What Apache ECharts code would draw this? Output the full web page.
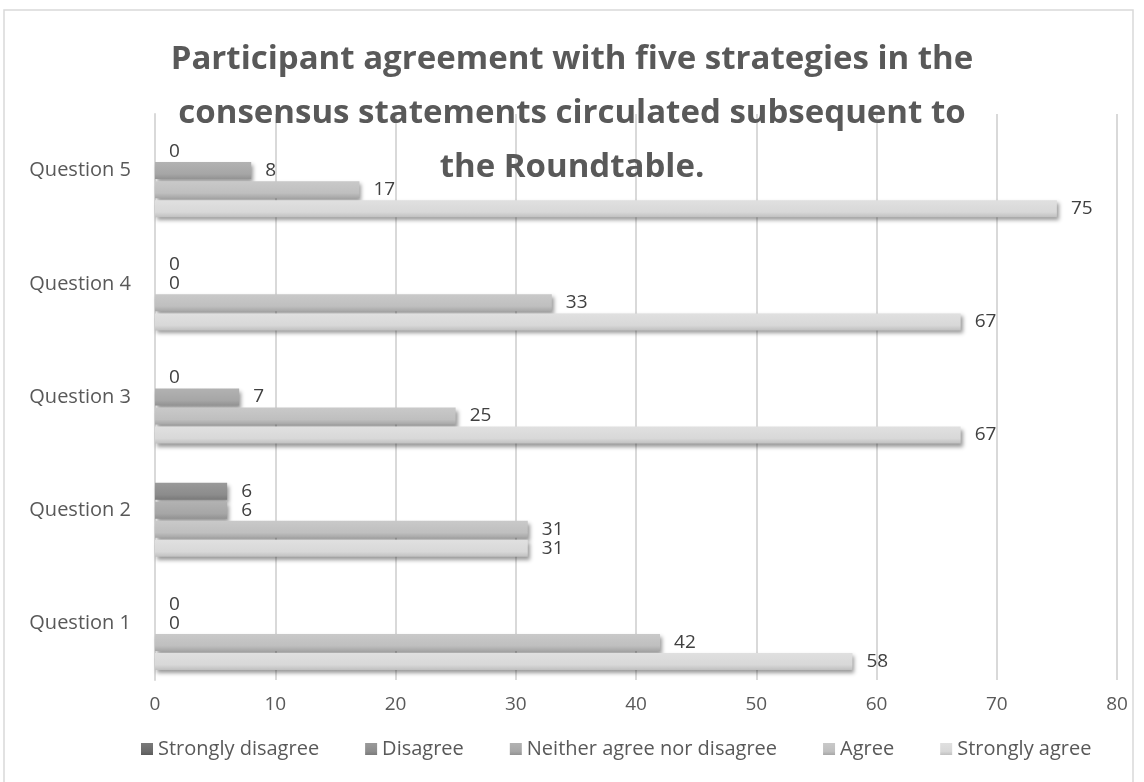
<!DOCTYPE html>
<html>
<head>
<meta charset="utf-8">
<script src="https://cdn.jsdelivr.net/npm/echarts@6/dist/echarts.min.js"></script>
<style>
html,body{margin:0;padding:0;background:#fff;}
#chart{width:1144px;height:782px;}
</style>
</head>
<body>
<div id="chart"></div>
<script>
var categories = ['Question 1', 'Question 2', 'Question 3', 'Question 4', 'Question 5'];
var seriesNames = ['Strongly disagree', 'Disagree', 'Neither agree nor disagree', 'Agree', 'Strongly agree'];
var stronglyDisagree = [null, null, null, null, null];
var disagree = [0, 6, 0, 0, 0];
var neither = [0, 6, 7, 0, 8];
var agree = [42, 31, 25, 33, 17];
var stronglyAgree = [58, 31, 67, 67, 75];
var xTicks = [0, 10, 20, 30, 40, 50, 60, 70, 80];

var values = [stronglyDisagree, disagree, neither, agree, stronglyAgree];
var baseColors = [['#7a7a7a', '#6a6a6a', '#5a5a5a'], ['#9a9a9a', '#8c8c8c', '#7a7a7a'], ['#b2b2b2', '#a6a6a6', '#929292'], ['#c9c9c9', '#bfbfbf', '#a6a6a6'], ['#e0e0e0', '#d8d8d8', '#c0c0c0']];
var FONT = 'Open Sans';

function grad(c) {
  return new echarts.graphic.LinearGradient(0, 0, 0, 1, [
    {offset: 0, color: c[0]}, {offset: 0.7, color: c[1]}, {offset: 1, color: c[2]}
  ]);
}

var series = seriesNames.map(function (name, i) {
  return {
    name: name,
    type: 'bar',
    data: values[i],
    barWidth: 17,
    barGap: '12%',
    itemStyle: {
      color: grad(baseColors[i]),
      shadowColor: 'rgba(0,0,0,0.4)',
      shadowBlur: 4,
      shadowOffsetX: 2,
      shadowOffsetY: 3
    },
    label: {
      show: true,
      position: 'right',
      distance: 14,
      fontFamily: FONT,
      fontSize: 19,
      color: '#404040'
    }
  };
});

var chart = echarts.init(document.getElementById('chart'));
chart.setOption({
  animation: false,
  backgroundColor: '#fff',
  title: {
    text: 'Participant agreement with five strategies in the\nconsensus statements circulated subsequent to\nthe Roundtable.',
    left: 'center',
    top: 28,
    z: 10,
    textStyle: {
      fontFamily: FONT,
      fontWeight: 'bold',
      fontSize: 33,
      lineHeight: 54,
      color: '#595959'
    }
  },
  graphic: [{
    type: 'rect',
    shape: {x: 4, y: 10, width: 1129, height: 800},
    style: {fill: 'none', stroke: '#d9d9d9', lineWidth: 1.5},
    z: -1
  }],
  grid: {left: 155, right: 27, top: 114, bottom: 102},
  xAxis: {
    type: 'value',
    min: 0,
    max: 80,
    interval: 10,
    axisLine: {show: false},
    axisTick: {show: false},
    splitLine: {show: true, lineStyle: {color: '#d9d9d9', width: 2}},
    axisLabel: {
      fontFamily: FONT,
      fontSize: 19,
      color: '#595959',
      margin: 15,
      formatter: function (v) { return xTicks.indexOf(v) >= 0 ? String(v) : ''; }
    }
  },
  yAxis: {
    type: 'category',
    data: categories,
    axisLine: {show: true, lineStyle: {color: '#d9d9d9', width: 2}},
    axisTick: {show: false},
    axisLabel: {fontFamily: FONT, fontSize: 20, color: '#595959', margin: 24}
  },
  legend: {
    data: seriesNames,
    bottom: 18,
    left: 136,
    itemWidth: 12,
    itemHeight: 12,
    itemGap: 46,
    icon: 'rect',
    textStyle: {fontFamily: FONT, fontSize: 20, color: '#595959'}
  },
  series: series
});
</script>
</body>
</html>
